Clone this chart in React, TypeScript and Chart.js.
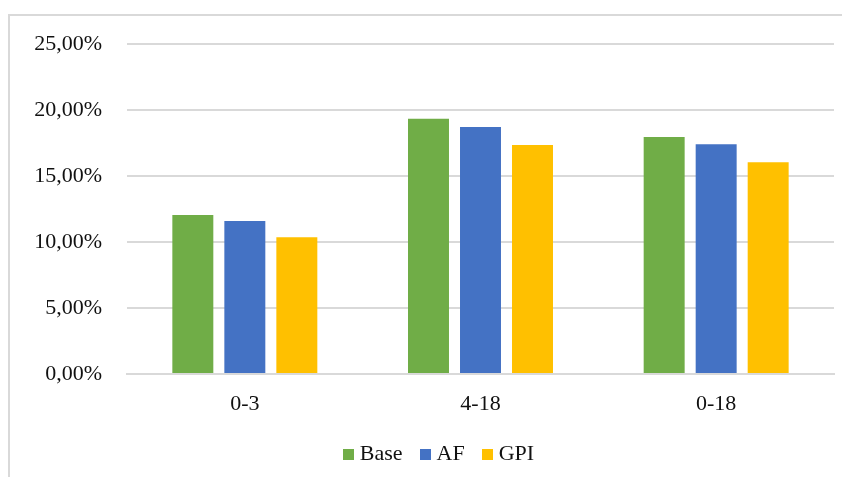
import React, { useEffect, useRef } from "react";
import { Chart, registerables } from "chart.js";

Chart.register(...registerables);

// Age groups on the x axis
const categories = ["0-3", "4-18", "0-18"];

// Rates per scenario, in percent
const baseValues = [12.05, 19.34, 17.95];
const afValues = [11.59, 18.71, 17.4];
const gpiValues = [10.36, 17.35, 16.04];

const seriesNames = ["Base", "AF", "GPI"];
const seriesColors = ["#70AD47", "#4472C4", "#FFC000"];

const FONT = "'Liberation Serif', 'Times New Roman', serif";
const TEXT = "#111111";
const GRID = "#d9d9d9";

const formatPct = (v: number) => v.toFixed(2).replace(".", ",") + "%";

// Small filled square used as the legend marker
function legendSwatch(color: string, size = 11): HTMLCanvasElement {
  const c = document.createElement("canvas");
  c.width = size;
  c.height = size;
  const ctx = c.getContext("2d");
  if (ctx) {
    ctx.fillStyle = color;
    ctx.fillRect(0, 0, size, size);
  }
  return c;
}

// Nudges the legend row sideways after layout
const legendShift = {
  id: "legendShift",
  afterLayout(chart: any, _args: any, opts: any) {
    const legend = chart.legend;
    if (!legend) return;
    legend.left += opts.dx || 0;
    legend.right += opts.dx || 0;
  },
};

export default function App() {
  const canvasRef = useRef<HTMLCanvasElement | null>(null);

  useEffect(() => {
    if (!canvasRef.current) return;
    const seriesValues = [baseValues, afValues, gpiValues];
    const swatches = seriesColors.map((c) => legendSwatch(c));
    const chart = new Chart(canvasRef.current, {
      type: "bar",
      data: {
        labels: categories,
        datasets: seriesNames.map((name, i) => ({
          label: name,
          data: seriesValues[i],
          backgroundColor: seriesColors[i],
          borderWidth: 0,
          categoryPercentage: 0.662,
          barPercentage: 0.788,
        })),
      },
      plugins: [legendShift],
      options: {
        animation: false,
        responsive: false,
        maintainAspectRatio: false,
        layout: { padding: { left: 0, right: 8, top: 28, bottom: 2 } },
        scales: {
          x: {
            afterFit: (scale: any) => {
              scale.height = 47;
            },
            grid: { display: false, drawTicks: false },
            border: { color: GRID, width: 2 },
            ticks: {
              color: TEXT,
              font: { family: FONT, size: 22 },
              padding: 17,
            },
          },
          y: {
            min: 0,
            max: 25,
            afterFit: (scale: any) => {
              scale.width = 117;
            },
            grid: {
              color: GRID,
              lineWidth: 2,
              drawTicks: true,
              tickLength: 25,
              tickColor: "rgba(0,0,0,0)",
            },
            border: { display: false },
            ticks: {
              stepSize: 5,
              color: TEXT,
              font: { family: FONT, size: 22 },
              padding: 0,
              callback: (v: any) => formatPct(Number(v)),
            },
          },
        },
        plugins: {
          legendShift: { dx: 19 },
          legend: {
            position: "bottom",
            labels: {
              usePointStyle: true,
              pointStyleWidth: 1,
              boxHeight: 11,
              padding: 22,
              color: TEXT,
              font: { family: FONT, size: 22 },
              generateLabels: (c: any) =>
                Chart.defaults.plugins.legend.labels
                  .generateLabels(c)
                  .map((item: any, i: number) => ({ ...item, pointStyle: swatches[i] })),
            },
          },
          tooltip: { enabled: false },
        },
      } as any,
    });
    return () => chart.destroy();
  }, []);

  return (
    <div style={{ height: 477, paddingTop: 6, marginBottom: -8, boxSizing: "border-box" }}>
      <div
        style={{
          borderTop: `2px solid ${GRID}`,
          borderLeft: `2px solid ${GRID}`,
          width: "calc(100% + 8px)",
          height: 471,
          boxSizing: "border-box",
        }}
      >
        <canvas ref={canvasRef} width={832} height={461} style={{ display: "block" }} />
      </div>
    </div>
  );
}
